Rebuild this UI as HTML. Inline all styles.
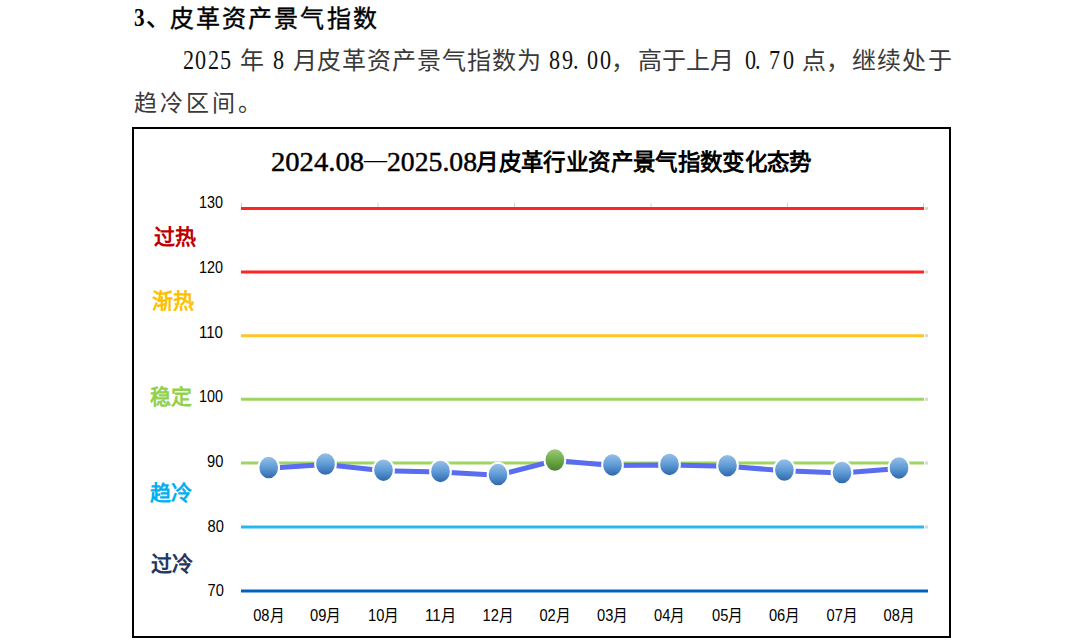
<!DOCTYPE html>
<html lang="zh-CN">
<head>
<meta charset="utf-8">
<style>
html,body{margin:0;padding:0;background:#fff;}
body{width:1083px;height:641px;overflow:hidden;position:relative;font-family:"Liberation Serif",serif;color:#000;}
.t{position:absolute;white-space:pre;line-height:1;}
.h{font-size:25px;-webkit-text-stroke:0.4px #000;letter-spacing:1px;}
.b{font-size:24px;color:#3a3a3a;}
.g{color:#111;}
.g{font-size:27px;top:46.5px;transform:scaleX(0.82);transform-origin:0 0;}
#chart{position:absolute;left:132px;top:127px;width:815px;height:507px;border:2px solid #000;}
svg{position:absolute;left:0;top:0;}
</style>
</head>
<body>
<!-- heading -->
<div class="t h" style="left:134px;top:4.5px;font-size:25px;font-weight:bold;-webkit-text-stroke:0;transform:scaleX(0.85);transform-origin:0 0;">3</div>
<div class="t h" style="left:145.5px;top:6px;font-size:24px;">、</div>
<div class="t h" style="left:170.2px;top:6.5px;font-size:24px;letter-spacing:2.06px;">皮革资产景气指数</div>
<!-- paragraph line 1 -->
<div class="t b g" style="left:183.0px;">2</div>
<div class="t b g" style="left:195.4px;">0</div>
<div class="t b g" style="left:207.8px;">2</div>
<div class="t b g" style="left:220.2px;">5</div>
<div class="t b g" style="left:272.9px;">8</div>
<div class="t b g" style="left:549.0px;">8</div>
<div class="t b g" style="left:561.9px;">9</div>
<div class="t b g" style="left:573.0px;">.</div>
<div class="t b g" style="left:587.0px;">0</div>
<div class="t b g" style="left:600.3px;">0</div>
<div class="t b g" style="left:744.7px;">0</div>
<div class="t b g" style="left:754.7px;">.</div>
<div class="t b g" style="left:768.7px;">7</div>
<div class="t b g" style="left:782.6px;">0</div>
<div class="t b" style="left:240px;top:48.5px;">年</div>
<div class="t b" style="left:293px;top:48.5px;">月</div>
<div class="t b" style="left:316.5px;top:48.5px;letter-spacing:1px;">皮革资产景气指数为</div>
<div class="t b" style="left:611px;top:48.5px;">，</div>
<div class="t b" style="left:637.5px;top:48.5px;letter-spacing:0.3px;">高于上月</div>
<div class="t b" style="left:802px;top:48.5px;">点，</div>
<div class="t b" style="left:851.5px;top:48.5px;letter-spacing:1.4px;">继续处于</div>
<!-- paragraph line 2 -->
<div class="t b" style="left:133.5px;top:91.5px;font-size:23px;letter-spacing:3.1px;">趋冷区间。</div>

<div id="chart"></div>
<svg width="1083" height="641" viewBox="0 0 1083 641">
  <defs>
    <linearGradient id="gb" x1="0" y1="0" x2="0" y2="1">
      <stop offset="0" stop-color="#9CC3E8"/>
      <stop offset="0.5" stop-color="#5F9BD6"/>
      <stop offset="1" stop-color="#2B63A8"/>
    </linearGradient>
    <linearGradient id="gg" x1="0" y1="0" x2="0" y2="1">
      <stop offset="0" stop-color="#A2CC80"/>
      <stop offset="0.5" stop-color="#6DAA48"/>
      <stop offset="1" stop-color="#4A7E2E"/>
    </linearGradient>
  </defs>
  <!-- title -->
  <g font-family="Liberation Serif" font-size="28" stroke="#000" stroke-width="0.45">
    <text x="271" y="170.5" textLength="93" lengthAdjust="spacingAndGlyphs">2024.08</text>
    <text x="364" y="168" textLength="23" lengthAdjust="spacingAndGlyphs" stroke-width="0">—</text>
    <text x="387" y="170.5" textLength="90" lengthAdjust="spacingAndGlyphs">2025.08</text>
  </g>
  <text x="476.4" y="169.8" font-family="Liberation Serif" font-size="22.5" font-weight="bold" textLength="336" lengthAdjust="spacing">月皮革行业资产景气指数变化态势</text>
  <!-- horizontal zone lines -->
  <g stroke-width="3" fill="none">
    <line x1="241" y1="208.5" x2="924" y2="208.5" stroke="#FF2424"/>
    <line x1="241" y1="272" x2="924" y2="272" stroke="#FF2424"/>
    <line x1="241" y1="335.7" x2="924" y2="335.7" stroke="#FFC425"/>
    <line x1="241" y1="399.3" x2="924" y2="399.3" stroke="#9DD562"/>
    <line x1="241" y1="463" x2="924" y2="463" stroke="#9DD562"/>
    <line x1="241" y1="527" x2="924" y2="527" stroke="#28B8EE"/>
    <line x1="241" y1="591" x2="928" y2="591" stroke="#0062BE"/>
  </g>
  <!-- axis labels -->
  <g font-family="Liberation Sans" font-size="16" text-anchor="end" fill="#000">
    <text x="223" y="207.5" textLength="24" lengthAdjust="spacingAndGlyphs">130</text>
    <text x="223" y="273" textLength="24" lengthAdjust="spacingAndGlyphs">120</text>
    <text x="223" y="338" textLength="24" lengthAdjust="spacingAndGlyphs">110</text>
    <text x="223" y="402" textLength="24" lengthAdjust="spacingAndGlyphs">100</text>
    <text x="223.3" y="467" textLength="16.3" lengthAdjust="spacingAndGlyphs">90</text>
    <text x="223.8" y="531.5" textLength="16.3" lengthAdjust="spacingAndGlyphs">80</text>
    <text x="223.8" y="595.7" textLength="16.3" lengthAdjust="spacingAndGlyphs">70</text>
  </g>
  <g font-family="Liberation Serif" font-size="21" font-weight="bold">
    <text x="153.5" y="244" fill="#C00000">过热</text>
    <text x="152" y="308" fill="#FFC000">渐热</text>
    <text x="149.5" y="404" fill="#92D050">稳定</text>
    <text x="150" y="499.5" fill="#00B0F0">趋冷</text>
    <text x="150.5" y="570.5" fill="#1F3864">过冷</text>
  </g>
  <g font-family="Liberation Sans" font-size="16" text-anchor="middle" fill="#000">
    <text x="268.7" y="620.5" textLength="31" lengthAdjust="spacingAndGlyphs">08月</text>
    <text x="325.5" y="620.5" textLength="31" lengthAdjust="spacingAndGlyphs">09月</text>
    <text x="383.5" y="620.5" textLength="31" lengthAdjust="spacingAndGlyphs">10月</text>
    <text x="440.5" y="620.5" textLength="31" lengthAdjust="spacingAndGlyphs">11月</text>
    <text x="498" y="620.5" textLength="31" lengthAdjust="spacingAndGlyphs">12月</text>
    <text x="554.9" y="620.5" textLength="31" lengthAdjust="spacingAndGlyphs">02月</text>
    <text x="612.5" y="620.5" textLength="31" lengthAdjust="spacingAndGlyphs">03月</text>
    <text x="669.5" y="620.5" textLength="31" lengthAdjust="spacingAndGlyphs">04月</text>
    <text x="727.5" y="620.5" textLength="31" lengthAdjust="spacingAndGlyphs">05月</text>
    <text x="784.4" y="620.5" textLength="31" lengthAdjust="spacingAndGlyphs">06月</text>
    <text x="842" y="620.5" textLength="31" lengthAdjust="spacingAndGlyphs">07月</text>
    <text x="899" y="620.5" textLength="31" lengthAdjust="spacingAndGlyphs">08月</text>
  </g>
  <!-- faint ticks and caps -->
  <g stroke="#C9D6D6" stroke-width="1">
    <line x1="241.5" y1="203" x2="241.5" y2="207"/>
    <line x1="378" y1="203" x2="378" y2="207"/>
    <line x1="514.5" y1="203" x2="514.5" y2="207"/>
    <line x1="651" y1="203" x2="651" y2="207"/>
    <line x1="787.5" y1="203" x2="787.5" y2="207"/>
    <line x1="923.5" y1="203" x2="923.5" y2="207"/>
  </g>
  <g fill="#D8D8D8">
    <rect x="925" y="207" width="3" height="3"/>
    <rect x="925" y="270.5" width="3" height="3"/>
    <rect x="925" y="334.2" width="3" height="3"/>
    <rect x="925" y="397.8" width="3" height="3"/>
    <rect x="925" y="461.5" width="3" height="3"/>
    <rect x="925" y="525.5" width="3" height="3"/>
  </g>
  <!-- series -->
  <polyline fill="none" stroke="#5A6CF0" stroke-width="5" stroke-linejoin="round"
    points="268.7,468.2 325.5,464.6 383.5,470.8 440.5,472 498,475.2 554.9,460.6 612.5,465.5 669.5,465 727.5,466.3 784.4,470.7 842,473.1 899,468.5"/>
  <g stroke="#fff" stroke-width="2">
    <ellipse cx="268.7" cy="467.6" rx="10.35" ry="11.75" fill="url(#gb)"/>
    <ellipse cx="325.5" cy="464.0" rx="10.35" ry="11.75" fill="url(#gb)"/>
    <ellipse cx="383.5" cy="470.2" rx="10.35" ry="11.75" fill="url(#gb)"/>
    <ellipse cx="440.5" cy="471.4" rx="10.35" ry="11.75" fill="url(#gb)"/>
    <ellipse cx="498" cy="474.6" rx="10.35" ry="11.75" fill="url(#gb)"/>
    <ellipse cx="554.9" cy="460.0" rx="10.35" ry="11.75" fill="url(#gg)"/>
    <ellipse cx="612.5" cy="464.9" rx="10.35" ry="11.75" fill="url(#gb)"/>
    <ellipse cx="669.5" cy="464.4" rx="10.35" ry="11.75" fill="url(#gb)"/>
    <ellipse cx="727.5" cy="465.7" rx="10.35" ry="11.75" fill="url(#gb)"/>
    <ellipse cx="784.4" cy="470.1" rx="10.35" ry="11.75" fill="url(#gb)"/>
    <ellipse cx="842" cy="472.5" rx="10.35" ry="11.75" fill="url(#gb)"/>
    <ellipse cx="899" cy="467.9" rx="10.35" ry="11.75" fill="url(#gb)"/>
  </g>
</svg>
</body>
</html>
